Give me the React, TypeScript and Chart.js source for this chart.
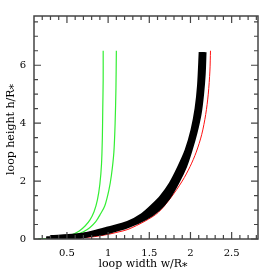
import React, { useEffect, useRef } from "react";
import { Chart, registerables } from "chart.js";

Chart.register(...registerables);

// axis ticks
const xMajorTicks = [0.5, 1, 1.5, 2, 2.5];
const yMajorTicks = [0, 2, 4, 6];
const xMinorStep = 0.1;
const yMinorStep = 0.5;

// black band, drawn as thick strokes along its lower-right side, middle and upper-left side
const bandOuterW = [0.3, 0.6, 0.83, 1.0, 1.24, 1.45, 1.6, 1.73, 1.84, 1.93, 1.995, 2.055, 2.105, 2.135, 2.155, 2.165];
const bandOuterH = [0.05, 0.1, 0.17, 0.26, 0.46, 0.73, 1.02, 1.44, 1.98, 2.52, 3.07, 3.67, 4.32, 5.0, 5.7, 6.45];
const bandMidW = [0.25, 0.5, 0.7, 0.83, 1.0, 1.12, 1.24, 1.4, 1.55, 1.68, 1.8, 1.9, 1.98, 2.04, 2.09, 2.12, 2.14, 2.145];
const bandMidH = [0.0, 0.04, 0.12, 0.19, 0.3, 0.39, 0.5, 0.75, 1.08, 1.45, 1.95, 2.5, 3.1, 3.7, 4.4, 5.1, 5.8, 6.45];
const bandInnerW = [0.25, 0.5, 0.83, 1.0, 1.24, 1.42, 1.54, 1.65, 1.765, 1.865, 1.958, 2.03, 2.08, 2.11, 2.13];
const bandInnerH = [0.0, 0.0, 0.22, 0.35, 0.54, 0.82, 1.12, 1.44, 1.9, 2.45, 3.05, 3.75, 4.5, 5.3, 6.45];

// red curve
const redW = [0.25, 0.5, 0.7, 0.83, 1.0, 1.12, 1.24, 1.45, 1.61, 1.76, 1.9, 1.995, 2.07, 2.136, 2.185, 2.216, 2.236, 2.243];
const redH = [0.0, 0.02, 0.05, 0.08, 0.16, 0.24, 0.33, 0.62, 0.92, 1.42, 2.0, 2.5, 3.0, 3.6, 4.3, 5.0, 5.8, 6.5];

// inner green curve
const green1W = [0.15, 0.3, 0.45, 0.55, 0.65, 0.72, 0.78, 0.83, 0.87, 0.9, 0.92, 0.93, 0.935, 0.94, 0.94];
const green1H = [0.0, 0.02, 0.07, 0.14, 0.28, 0.45, 0.66, 0.95, 1.35, 1.9, 2.6, 3.5, 4.5, 5.5, 6.5];

// outer green curve
const green2W = [0.15, 0.3, 0.45, 0.6, 0.7, 0.78, 0.85, 0.91, 0.96, 1.01, 1.04, 1.07, 1.085, 1.095, 1.1];
const green2H = [0.0, 0.02, 0.06, 0.14, 0.25, 0.4, 0.6, 0.88, 1.15, 1.7, 2.2, 3.0, 4.0, 5.2, 6.5];

const X_MIN = 0.1;
const X_MAX = 2.82;
const Y_MIN = 0;
const Y_MAX = 7.7;

const toPts = (w: number[], h: number[]) => w.map((x, i) => ({ x, y: h[i] }));

const tickFont = { family: "DejaVu Serif", size: 10 };

const framePlugin = {
  id: "frameTicks",
  afterDraw(chart: any) {
    const { ctx, chartArea, scales } = chart;
    const xs = scales.x;
    const ys = scales.y;
    const { left, right, top, bottom } = chartArea;
    ctx.save();
    ctx.strokeStyle = "#444";
    ctx.lineWidth = 1.5;
    ctx.strokeRect(left, top, right - left, bottom - top);
    ctx.lineWidth = 1.2;
    const majorLen = 7;
    const minorLen = 4;
    ctx.beginPath();
    for (let v = 0.2; v <= X_MAX + 1e-9; v += xMinorStep) {
      const rv = Math.round(v * 10) / 10;
      const isMajor = xMajorTicks.some((m) => Math.abs(m - rv) < 1e-6);
      const len = isMajor ? majorLen : minorLen;
      const px = xs.getPixelForValue(rv);
      ctx.moveTo(px, bottom);
      ctx.lineTo(px, bottom - len);
      ctx.moveTo(px, top);
      ctx.lineTo(px, top + len);
    }
    for (let v = Y_MIN; v <= Y_MAX + 1e-9; v += yMinorStep) {
      const rv = Math.round(v * 10) / 10;
      const isMajor = yMajorTicks.some((m) => Math.abs(m - rv) < 1e-6);
      const len = isMajor ? majorLen : minorLen;
      const py = ys.getPixelForValue(rv);
      ctx.moveTo(left, py);
      ctx.lineTo(left + len, py);
      ctx.moveTo(right, py);
      ctx.lineTo(right - len, py);
    }
    ctx.stroke();

    ctx.fillStyle = "#000";
    ctx.font = "11px 'DejaVu Serif'";
    ctx.textAlign = "center";
    ctx.textBaseline = "alphabetic";
    ctx.fillText("loop width w/R\u204E", (left + right) / 2 - 3, 267);
    ctx.save();
    ctx.translate(14, (top + bottom) / 2 + 2);
    ctx.rotate(-Math.PI / 2);
    ctx.fillText("loop height h/R\u204E", 0, 0);
    ctx.restore();
    ctx.restore();
  },
};

export default function App() {
  const canvasRef = useRef<HTMLCanvasElement | null>(null);

  useEffect(() => {
    document.body.style.margin = "0";
    const canvas = canvasRef.current;
    if (!canvas) return;
    const lineDefaults = { showLine: true, pointRadius: 0, tension: 0.3, clip: 0 };
    const bandStyle = { borderColor: "#000", borderWidth: 5, borderCapStyle: "butt" };
    const chart = new Chart(canvas, {
      type: "scatter",
      data: {
        datasets: [
          { ...lineDefaults, ...bandStyle, data: toPts(bandOuterW, bandOuterH) },
          { ...lineDefaults, ...bandStyle, data: toPts(bandMidW, bandMidH) },
          { ...lineDefaults, ...bandStyle, data: toPts(bandInnerW, bandInnerH) },
          {
            ...lineDefaults,
            data: toPts(redW, redH),
            borderColor: "#ff1010",
            borderWidth: 1,
          },
          {
            ...lineDefaults,
            data: toPts(green1W, green1H),
            borderColor: "#33ee33",
            borderWidth: 1.2,
          },
          {
            ...lineDefaults,
            data: toPts(green2W, green2H),
            borderColor: "#33ee33",
            borderWidth: 1.2,
          },
        ],
      },
      options: {
        animation: false,
        responsive: false,
        maintainAspectRatio: false,
        layout: { padding: { top: 16, right: 15, left: 0, bottom: 0 } },
        plugins: { legend: { display: false }, tooltip: { enabled: false } },
        scales: {
          x: {
            type: "linear",
            min: X_MIN,
            max: X_MAX,
            afterBuildTicks: (s: any) => {
              s.ticks = xMajorTicks.map((v) => ({ value: v }));
            },
            afterFit: (s: any) => {
              s.height = 34;
            },
            grid: { display: false, drawTicks: false },
            border: { display: false },
            ticks: {
              padding: 8,
              color: "#000",
              font: tickFont,
              maxRotation: 0,
              autoSkip: false,
              callback: (v: any) => String(v),
            },
          },
          y: {
            type: "linear",
            min: Y_MIN,
            max: Y_MAX,
            afterBuildTicks: (s: any) => {
              s.ticks = yMajorTicks.map((v) => ({ value: v }));
            },
            afterFit: (s: any) => {
              s.width = 34;
            },
            grid: { display: false, drawTicks: false },
            border: { display: false },
            ticks: {
              padding: 8,
              color: "#000",
              font: tickFont,
              autoSkip: false,
              callback: (v: any) => String(v),
            },
          },
        },
      },
      plugins: [framePlugin],
    });
    return () => chart.destroy();
  }, []);

  return (
    <div style={{ position: "absolute", left: 0, top: 0, width: 273, height: 273, background: "#fff" }}>
      <canvas ref={canvasRef} width={273} height={273} style={{ width: 273, height: 273 }} />
    </div>
  );
}
